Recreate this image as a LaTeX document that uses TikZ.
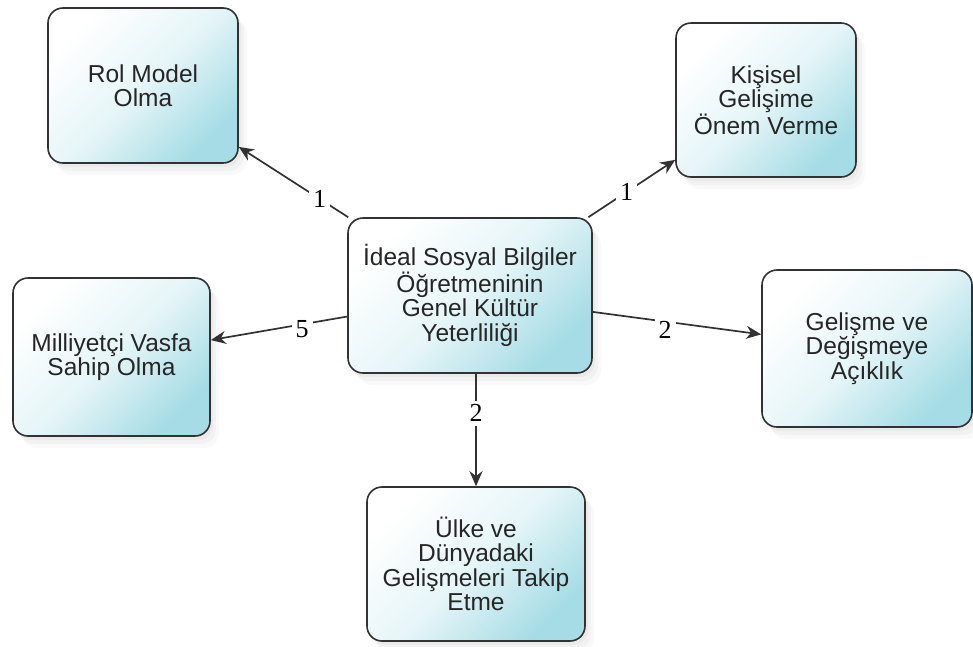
\documentclass[tikz,border=0pt]{standalone}
\usepackage{fontspec}
\setmainfont{Liberation Serif}
\newfontfamily\boxfont{Liberation Sans}
\usetikzlibrary{arrows.meta,shadows}
\definecolor{boxcyan}{RGB}{165,220,229}
\definecolor{boxline}{RGB}{50,50,50}

\begin{document}
\begin{tikzpicture}[x=1pt,y=-1pt,
   box/.style={draw=boxline, line width=1.6pt, rounded corners=15pt,
      top color=white, bottom color=boxcyan, middle color=boxcyan!28,
      shading angle=45, align=center, text=black!85,
      font=\boxfont\fontsize{24.5}{24.5}\selectfont,
      drop shadow={opacity=0.07, shadow xshift=3pt, shadow yshift=-4pt},
      drop shadow={opacity=0.06, shadow xshift=6pt, shadow yshift=-8pt},
      drop shadow={opacity=0.05, shadow xshift=9pt, shadow yshift=-12pt}},
   link/.style={-{Stealth[length=15pt,width=13pt]}, draw=boxline, line width=1.7pt},
   num/.style={fill=white, inner sep=4pt, font=\fontsize{26}{26}\selectfont}]
   \useasboundingbox (0,0) rectangle (973,646);

   \node[box, minimum width=244pt, minimum height=155pt] (center) at (470,295.5)
      {İdeal Sosyal Bilgiler\\Öğretmeninin\\Genel Kültür\\Yeterliliği};
   \node[box, minimum width=190pt, minimum height=155pt] (rol) at (143,85.5)
      {Rol Model\\Olma};
   \node[box, minimum width=180pt, minimum height=154pt] (kisisel) at (766,100)
      {Kişisel\\Gelişime\\Önem Verme};
   \node[box, minimum width=197pt, minimum height=158pt] (milli) at (111.5,357)
      {Milliyetçi Vasfa\\Sahip Olma};
   \node[box, minimum width=210pt, minimum height=157pt] (gelisme) at (867,348.5)
      {Gelişme ve\\Değişmeye\\Açıklık};
   \node[box, minimum width=218pt, minimum height=154pt] (ulke) at (476,564)
      {Ülke ve\\Dünyadaki\\Gelişmeleri Takip\\Etme};

   \path (center) edge[link] node[num, pos=0.26] {1} (rol);
   \path (center) edge[link] node[num, pos=0.44] {1} (kisisel);
   \path (center) edge[link] node[num, pos=0.33, yshift=-5pt] {5} (milli);
   \path (center) edge[link] node[num, pos=0.43, yshift=-8pt] {2} (gelisme);
   \path (ulke.north |- center.south) edge[link] node[num, pos=0.35] {2} (ulke);

\end{tikzpicture}
\end{document}
